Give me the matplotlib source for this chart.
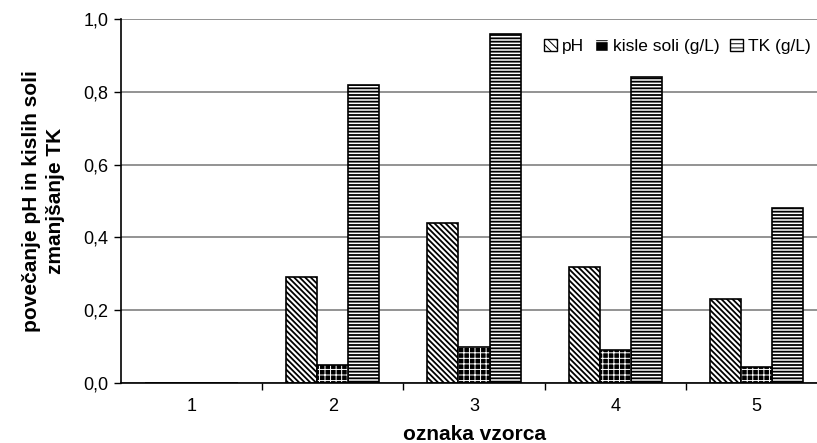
import matplotlib
matplotlib.use("Agg")
import matplotlib.pyplot as plt
import matplotlib.patches as mpatches
import numpy as np

samples = ["1", "2", "3", "4", "5"]
ph = [0.0, 0.29, 0.44, 0.32, 0.23]
kisle_soli = [0.0, 0.05, 0.10, 0.09, 0.045]
tk = [0.0, 0.82, 0.96, 0.84, 0.48]

plt.rcParams['font.family'] = ['Liberation Sans', 'DejaVu Sans']

fig = plt.figure(figsize=(8.17, 4.43), dpi=100)
ax = fig.add_axes([0.148, 0.1354, 0.8644, 0.8217])

x = np.arange(len(samples))
w = 0.22

# hatch linewidth is picked up when each patch is made
plt.rcParams['hatch.linewidth'] = 1.3
ax.bar(x - w, ph, w, facecolor='white', edgecolor='black', hatch='\\' * 6,
       linewidth=1.2, zorder=3)
ax.bar(x + w, tk, w, facecolor='white', edgecolor='black', hatch='-----',
       linewidth=1.2, zorder=3)
h_ph = mpatches.Patch(facecolor='white', edgecolor='black', hatch='\\' * 4, label='pH')
h_tk = mpatches.Patch(facecolor='white', edgecolor='black', hatch='----', label='TK (g/L)')

# black fill with a white grid, then a black outline on top
plt.rcParams['hatch.linewidth'] = 0.7
ax.bar(x, kisle_soli, w, facecolor='black', edgecolor='white', hatch='+++',
       linewidth=0, zorder=3)
ax.bar(x, kisle_soli, w, facecolor='none', edgecolor='black', linewidth=1.2, zorder=4)
h_ks = mpatches.Patch(facecolor='black', edgecolor='white', hatch='+', label='kisle soli (g/L)')

ax.set_xlim(-0.5, len(samples) - 0.5)
ax.set_ylim(0, 1.0)
yticks = np.arange(0, 1.01, 0.2)
ax.set_yticks(yticks)
ax.set_yticklabels([f"{v:.1f}".replace('.', ',') for v in yticks], fontsize=13)
ax.set_xticks(x)
ax.set_xticklabels(samples, fontsize=13)
ax.set_xticks(np.arange(0.5, len(samples) - 0.5, 1), minor=True)
ax.tick_params(axis='x', which='major', length=0, pad=11)
ax.tick_params(axis='x', which='minor', length=5, width=1, direction='out')
ax.tick_params(axis='y', length=5, width=1, direction='out', pad=4)

ax.yaxis.grid(True, color='#808080', linewidth=1.2, zorder=0)
ax.set_axisbelow(True)
for side in ['top', 'right']:
    ax.spines[side].set_visible(False)
for side in ['left', 'bottom']:
    ax.spines[side].set_linewidth(1.2)
    ax.spines[side].set_zorder(5)

ax.set_xlabel("oznaka vzorca", fontsize=15, fontweight='bold', labelpad=7)
ax.set_ylabel("povečanje pH in kislih soli\nzmanjšanje TK", fontsize=15,
              fontweight='bold', labelpad=13, linespacing=1.35)

leg = fig.legend(handles=[h_ph, h_ks, h_tk], loc='upper right', ncol=3, frameon=False,
                 fontsize=12.5, handlelength=0.75, handleheight=0.75, handletextpad=0.3,
                 columnspacing=0.6, bbox_to_anchor=(1.012, 0.948))

fig.savefig("out.png", dpi=100)
